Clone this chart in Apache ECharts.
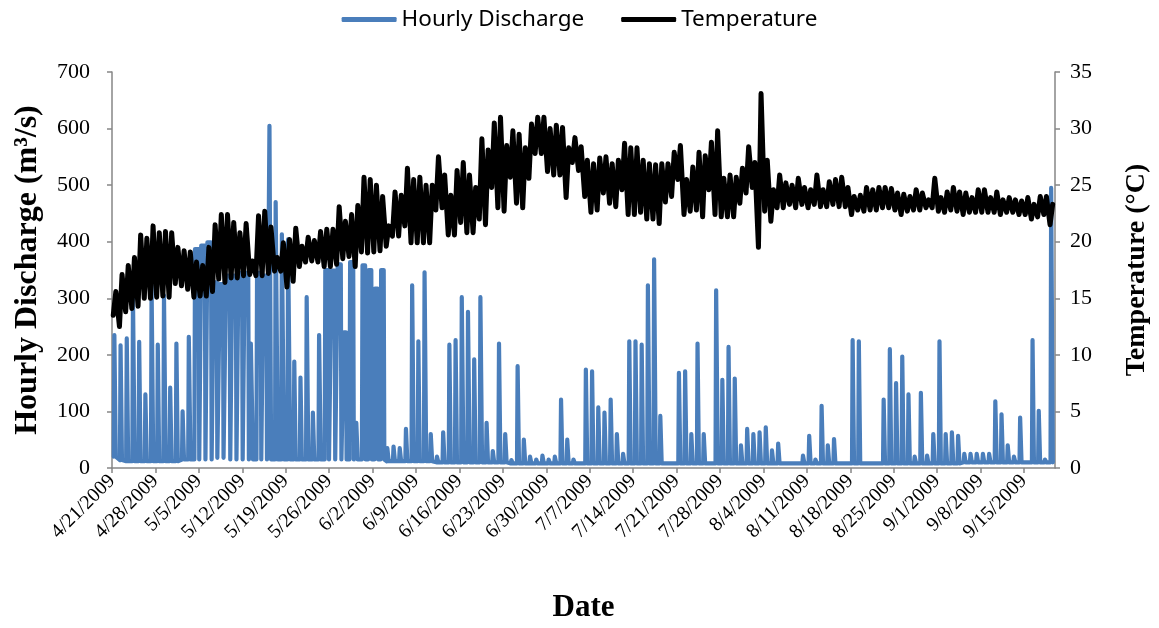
<!DOCTYPE html>
<html>
<head>
<meta charset="utf-8">
<script src="https://cdn.jsdelivr.net/npm/echarts@6/dist/echarts.min.js"></script>
<style>
  html, body { margin: 0; padding: 0; background: #fff; }
  #chart { width: 1159px; height: 628px; }
</style>
</head>
<body>
<div id="chart"></div>
<script>
// Day 0 = 4/21/2009; one entry per day through 9/19/2009.
const dateTicks = ['4/21/2009','4/28/2009','5/5/2009','5/12/2009','5/19/2009','5/26/2009',
  '6/2/2009','6/9/2009','6/16/2009','6/23/2009','6/30/2009','7/7/2009','7/14/2009',
  '7/21/2009','7/28/2009','8/4/2009','8/11/2009','8/18/2009','8/25/2009','9/1/2009',
  '9/8/2009','9/15/2009'];

// Daily minimum / maximum water temperature (°C)
const tempMin = [
  13.5,12.5,13.8,14.1,14.3,15.0,15.0,15.1,15.2,15.1,16.3,16.1,15.8,15.1,15.2,15.2,15.6,16.7,16.4,16.8,
  16.8,17.0,17.1,17.0,17.0,17.2,17.4,17.4,16.0,16.5,17.8,18.2,18.3,18.2,17.8,17.8,18.0,18.5,18.7,17.8,
  19.1,19.0,19.1,19.2,19.6,20.5,20.5,21.4,19.9,19.9,19.9,19.9,22.8,23.0,20.6,20.6,21.7,20.8,20.8,22.0,
  21.5,24.8,23.0,22.7,25.7,23.4,23.0,25.6,27.8,27.8,26.2,25.9,25.9,23.9,27.0,26.3,24.0,22.6,22.8,24.3,
  23.4,23.1,24.6,22.4,22.4,22.6,22.0,22.0,21.6,23.5,24.0,25.5,22.4,22.7,22.8,22.2,24.6,22.4,22.2,22.2,
  22.2,23.4,24.3,24.8,19.5,22.7,21.8,23.0,23.0,23.3,23.0,23.3,23.0,23.3,23.1,23.1,23.3,23.1,23.1,22.4,
  22.8,22.7,22.8,22.8,23.0,23.0,22.8,22.4,22.7,22.8,22.8,23.0,23.0,22.7,22.6,22.8,22.7,22.4,22.6,22.6,
  22.6,22.6,22.6,22.4,22.6,22.6,22.4,22.4,22.0,22.2,22.4,21.5
];
const tempMax = [
  15.6,17.1,17.9,18.6,20.6,20.3,21.4,20.8,20.9,20.8,19.5,19.2,19.1,18.2,17.9,19.5,21.5,22.4,22.4,21.7,
  20.8,21.6,18.3,22.3,22.7,21.3,18.6,19.9,20.2,21.2,19.6,20.4,20.1,20.9,21.1,21.1,23.1,21.8,22.4,23.2,
  25.7,25.5,25.0,24.0,21.4,24.4,24.1,26.5,25.5,25.7,25.0,25.0,27.5,25.9,24.1,26.3,27.0,25.9,24.8,29.1,
  28.1,30.5,31.0,28.5,29.8,29.5,28.3,30.4,31.0,31.0,30.0,30.3,30.1,28.3,29.2,28.4,27.2,26.9,27.4,27.5,
  26.9,27.2,28.7,28.3,28.3,27.2,26.9,26.8,26.9,26.9,27.9,28.5,25.5,26.6,27.9,27.6,28.8,29.8,25.6,25.9,
  25.7,26.5,28.4,27.0,33.1,27.2,24.6,25.9,25.2,25.0,25.6,24.8,24.6,25.9,24.6,25.3,25.5,25.7,24.8,24.0,
  24.1,24.8,24.6,24.8,24.8,24.7,24.3,24.2,24.0,24.6,24.3,23.7,25.6,23.9,24.4,24.8,24.4,24.3,23.9,24.6,
  24.6,23.9,24.4,23.7,23.9,23.7,23.6,23.9,23.3,24.0,24.0,23.3
];

// Daily base flow, release peak (m³/s) and hours held at the peak
const flowBase = [
  20,14,12,12,12,12,12,12,12,12,12,15,15,15,15,15,18,18,15,15,
  15,15,15,15,15,15,15,15,15,15,15,15,15,15,15,15,15,15,15,15,
  15,15,15,15,12,12,12,12,12,12,12,12,10,10,10,10,10,10,10,10,
  10,10,10,10,8,8,8,8,8,8,8,8,8,8,8,8,8,8,8,8,
  8,8,8,8,8,8,8,8,8,8,8,8,8,8,8,8,8,8,8,8,
  8,8,8,8,8,8,8,8,8,8,8,8,8,8,8,8,8,8,8,8,
  8,8,8,8,8,8,8,8,8,8,8,8,8,8,8,8,8,10,10,10,
  10,10,10,10,10,10,10,10,10,10,10,10
];
const flowPeak = [
  235,217,229,305,223,130,323,218,305,142,220,100,232,387,393,399,328,325,340,340,
  345,345,220,345,340,605,470,413,404,188,160,302,98,235,350,349,360,240,364,80,
  358,350,317,350,35,38,35,69,323,224,346,60,20,63,218,226,302,276,192,302,
  80,30,220,60,14,180,50,20,15,22,15,20,121,50,15,10,174,171,107,98,
  121,60,25,224,224,218,323,369,92,10,10,168,171,60,220,60,10,314,156,214,
  158,40,69,60,63,72,31,43,10,10,10,22,57,15,110,40,51,10,10,226,
  224,10,10,10,121,210,150,197,130,20,133,22,60,224,60,63,57,25,25,25,
  25,25,118,95,40,20,89,10,226,101,15,495
];
const flowHours = [
  3,3,3,4,3,3,4,3,4,3,3,3,4,14,14,14,12,12,14,14,
  14,14,6,14,12,4,6,6,6,3,3,4,3,4,12,12,12,8,12,3,
  10,10,10,10,3,3,3,3,4,3,4,3,3,3,3,3,4,4,3,4,
  3,3,3,3,3,3,3,3,3,3,3,3,3,3,3,3,3,3,3,3,
  3,3,3,3,3,3,4,4,3,3,3,3,3,3,3,3,3,4,3,3,
  3,3,3,3,3,3,3,3,3,3,3,3,3,3,3,3,3,3,3,3,
  3,3,3,3,3,3,3,3,3,3,3,3,3,3,3,3,3,3,3,3,
  3,3,3,3,3,3,3,3,3,3,3,4
];

// Place each day's readings at their time of day (fraction of a day)
const dischargeSeries = [];
flowPeak.forEach((p, d) => {
  const start = d + 0.28;
  const end = start + 0.1 + flowHours[d] / 24;
  dischargeSeries.push([start, flowBase[d]]);
  dischargeSeries.push([start + 0.1, p]);
  dischargeSeries.push([end, p]);
  dischargeSeries.push([end + 0.1, flowBase[d]]);
});
const temperatureSeries = [];
tempMin.forEach((t, d) => {
  temperatureSeries.push([d + 0.2, t]);
  temperatureSeries.push([d + 0.62, tempMax[d]]);
});

const axisGray = '#868686';
const serif = '"Liberation Serif", "Times New Roman", serif';

const chart = echarts.init(document.getElementById('chart'), null, { renderer: 'canvas' });
chart.setOption({
  animation: false,
  backgroundColor: '#ffffff',
  legend: {
    top: 3,
    left: 'center',
    itemGap: 37,
    itemWidth: 55,
    itemHeight: 5,
    icon: 'roundRect',
    textStyle: { fontFamily: '"Noto Sans", sans-serif', fontSize: 22.5, color: '#000' },
    data: ['Hourly Discharge', 'Temperature']
  },
  grid: { left: 112, right: 98, top: 72, bottom: 157 },
  xAxis: {
    type: 'value',
    min: 0,
    max: 152,
    interval: 7,
    name: 'Date',
    nameLocation: 'middle',
    nameGap: 124,
    nameTextStyle: { fontFamily: serif, fontSize: 31, fontWeight: 'bold', color: '#000' },
    axisLine: { show: true, lineStyle: { color: axisGray, width: 1.5 } },
    axisTick: { show: true, length: 5, lineStyle: { color: axisGray, width: 1.5 } },
    axisLabel: {
      rotate: 45,
      margin: 10,
      fontFamily: serif,
      fontSize: 20,
      color: '#000',
      showMaxLabel: false,
      formatter: v => {
        const i = v / 7;
        return Number.isInteger(i) && dateTicks[i] ? dateTicks[i] : '';
      }
    },
    splitLine: { show: false }
  },
  yAxis: [
    {
      type: 'value',
      min: 0, max: 700, interval: 100,
      name: 'Hourly Discharge (m³/s)',
      nameLocation: 'middle',
      nameGap: 68,
      nameRotate: 90,
      nameTextStyle: { fontFamily: serif, fontSize: 32, fontWeight: 'bold', color: '#000' },
      axisLine: { show: true, lineStyle: { color: axisGray, width: 1.5 } },
      axisTick: { show: true, length: 5, lineStyle: { color: axisGray, width: 1.5 } },
      axisLabel: { fontFamily: serif, fontSize: 22, color: '#000', margin: 22 },
      splitLine: { show: false }
    },
    {
      type: 'value',
      min: 0, max: 35, interval: 5,
      name: 'Temperature (°C)',
      nameLocation: 'middle',
      nameGap: 68,
      nameRotate: 90,
      nameTextStyle: { fontFamily: serif, fontSize: 28, fontWeight: 'bold', color: '#000' },
      axisLine: { show: true, lineStyle: { color: axisGray, width: 1.5 } },
      axisTick: { show: true, length: 5, lineStyle: { color: axisGray, width: 1.5 } },
      axisLabel: { fontFamily: serif, fontSize: 22, color: '#000', margin: 15 },
      splitLine: { show: false }
    }
  ],
  series: [
    {
      name: 'Hourly Discharge',
      type: 'line',
      yAxisIndex: 0,
      data: dischargeSeries,
      showSymbol: false,
      symbol: 'none',
      color: '#4a7ebb',
      lineStyle: { color: '#4a7ebb', width: 4.2, cap: 'round', join: 'round' }
    },
    {
      name: 'Temperature',
      type: 'line',
      yAxisIndex: 1,
      data: temperatureSeries,
      showSymbol: false,
      symbol: 'none',
      color: '#000000',
      lineStyle: { color: '#000000', width: 5, cap: 'round', join: 'round' }
    }
  ]
});
</script>
</body>
</html>
